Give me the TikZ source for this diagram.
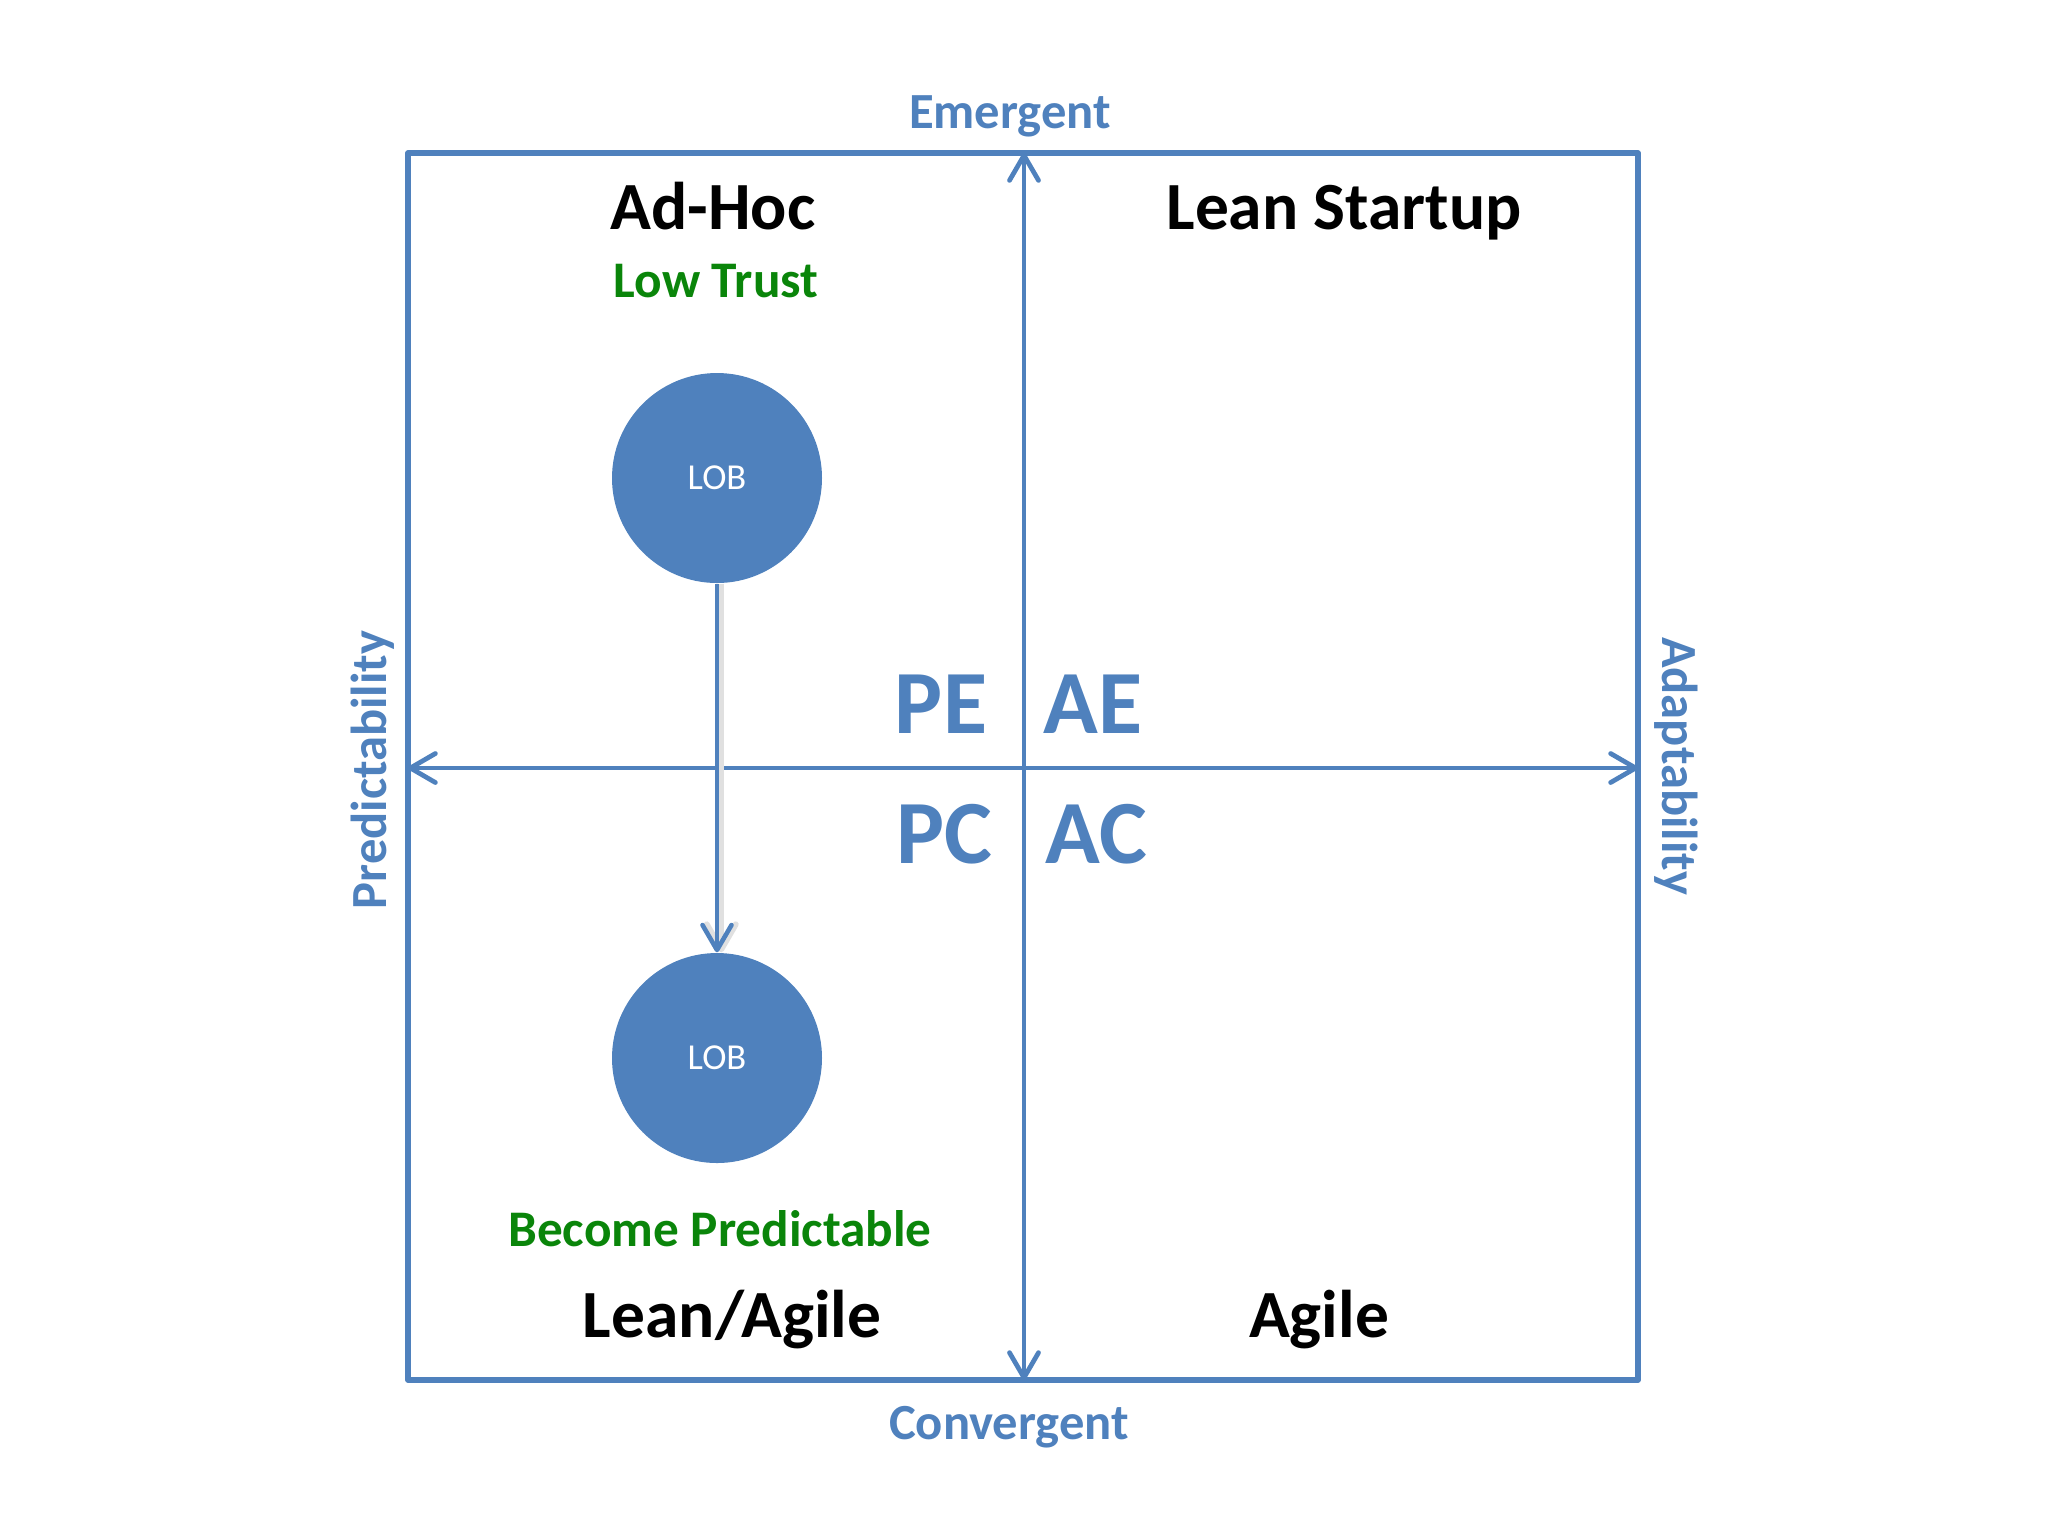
\documentclass[tikz,border=0pt]{standalone}
\usepackage{fontspec}
\setmainfont{Carlito}
\usetikzlibrary{arrows.meta,positioning}
\definecolor{axisblue}{HTML}{4F81BD}
\definecolor{trustgreen}{HTML}{0A850A}

\begin{document}
\begin{tikzpicture}[
		x=0.1mm, y=-0.1mm,
		frame/.style    = {draw=axisblue, line width=1.5pt, line join=round},
		barb/.tip       = {Straight Barb[length=2.5mm, width=2.9mm, line cap=round, line join=round]},
		axis/.style     = {draw=axisblue, line width=1.35pt, barb-barb},
		flow/.style     = {draw=axisblue, line width=1.3pt, -barb,
			preaction={draw=black!12, line width=1.7pt, transform canvas={xshift=1.2pt}}},
		axislabel/.style = {text=axisblue, anchor=base, font=\fontsize{14.4}{17}\selectfont\bfseries},
		quadrant/.style = {anchor=base, font=\fontsize{19.2}{23}\selectfont\bfseries},
		note/.style     = {text=trustgreen, anchor=base, font=\fontsize{14.6}{17}\selectfont\bfseries},
		code/.style     = {text=axisblue, anchor=base, font=\fontsize{25.7}{30}\selectfont\bfseries},
		lob/.style      = {circle, fill=axisblue, minimum size=21mm, inner sep=0pt, text=white,
			font=\fontsize{10.4}{12}\selectfont}]
		
		\useasboundingbox (0,0) rectangle (2048,1536);
		
		% outer frame and its edge midpoints
		\draw[frame] (408,153) rectangle (1638,1380);
		\coordinate (top) at (1024,153);
		\coordinate (bottom) at (1024,1380);
		\coordinate (left) at (408,768);
		\coordinate (right) at (1638,768);
		
		% the two axes
		\draw[axis] (bottom) -- (top);
		\draw[axis] (right) -- (left);
		
		% axis labels
		\node[axislabel] (emergent) at (1010,128) {Emergent};
		\node[axislabel] (convergent) at (1009,1439) {Convergent};
		\node[axislabel, rotate=90] (predict) at (386,770) {Predictability};
		\node[axislabel, rotate=-90] (adapt) at (1662,766) {Adaptability};
		
		% quadrant names
		\begin{scope}[every node/.style={quadrant}]
			\node (adhoc) at (713,229) {Ad-Hoc};
			\node (startup) at (1344,229) {Lean Startup};
			\node (leanagile) at (732,1337) {Lean/Agile};
			\node (agile) at (1319,1337) {Agile};
		\end{scope}
		
		% quadrant codes round the centre
		\begin{scope}[every node/.style={code}]
			\node (pe) at (941,733) {PE};
			\node (ae) at (1093,733) {AE};
			\node (pc) at (944,863) {PC};
			\node (ac) at (1096,863) {AC};
		\end{scope}
		
		% green notes
		\node[note] (trust) at (716,297) {Low Trust};
		\node[note] (become) at (720,1246) {Become Predictable};
		
		% line of business, before and after
		\node[lob] (lob1) at (717,478) {LOB};
		\node[lob] (lob2) at (717,1058) {LOB};
		\draw[flow] (lob1) -- (lob2);
		
	\end{tikzpicture}
\end{document}
